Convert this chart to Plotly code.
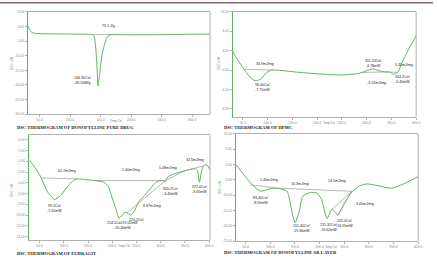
import plotly.graph_objects as go

# ---------------- data ----------------
# Panel 1: Donofylline pure drug
t1 = [30.6, 33, 37, 45, 60, 80, 100, 120, 134, 137, 139.5, 141.4, 144, 145.6, 147.5, 149.5, 152, 154.8, 157.5, 160, 163, 166.6, 180, 200, 250, 300, 329]
v1 = [0.3, -0.8, -2.0, -2.4, -2.5, -2.55, -2.6, -2.65, -2.7, -2.8, -3.6, -6.1, -13.9, -20.3, -17.5, -13.9, -10.0, -7.2, -5.3, -3.9, -3.1, -2.8, -2.8, -2.85, -2.8, -2.65, -2.6]
base1 = [([137, 166.6], [-2.8, -2.8])]
tx1 = [50, 100, 150, 200, 250, 300]
ty1 = [5, 0, -5, -10, -15, -20, -25, -30]

# Panel 2: HPMC
t2 = [29.3, 39.3, 52.7, 62.7, 74.7, 86, 96, 106, 116, 162.7, 196, 242.7, 282.7, 299.3, 312.7, 322.7, 336, 346, 354, 362.7, 372.7, 386, 396, 400]
v2 = [3.94, 2.19, 0.16, -1.2, -2.2, -1.87, -0.73, -0.04, 0.02, -0.45, -0.73, -1.0, -0.73, -0.18, 0.28, -0.04, -0.38, -0.38, -0.85, -0.45, 1.85, 4.55, 6.25, 7.1]
base2 = [([52.7, 110.7], [0.16, 0.02]), ([289, 336], [-0.5, -0.38]), ([336, 362.7], [-0.38, -0.45])]
tx2 = [50, 100, 150, 200, 250, 300, 350, 400]
ty2 = [12, 8, 4, 0, -4, -8]

# Panel 3: Eudragit
t3 = [29.5, 39.8, 53.5, 66.4, 80.8, 93, 105, 115.6, 126.5, 144, 162.8, 181, 191.5, 199.7, 208, 214, 220, 226.3, 230.4, 238, 244.8, 255, 269.4, 289, 302, 309.7, 314.5, 326.8, 350.7, 371, 376, 380, 384, 388, 395, 402]
v3 = [0.13, -1.1, -3.1, -5.7, -7.1, -6.4, -5.0, -3.9, -3.3, -3.4, -3.6, -3.85, -4.6, -6.8, -9.0, -10.6, -10.1, -9.5, -9.6, -10.0, -9.4, -7.5, -6.1, -4.0, -3.5, -3.8, -2.9, -2.4, -1.74, -1.4, -1.8, -3.9, -2.0, -0.9, -0.65, -1.6]
base3 = [([53.5, 126.5], [-3.1, -3.3]), ([162.8, 309.7], [-3.6, -3.6]), ([230.4, 309.7], [-9.6, -3.6]),
         ([309.7, 350.7], [-3.6, -1.74]), ([350.7, 388], [-1.74, -0.9])]
tx3 = [50, 100, 150, 200, 250, 300, 350, 400]
ty3 = [4, 2, 0, -2, -4, -6, -8, -10, -12, -14]

# Panel 4: Donofylline SR layer
t4 = [30, 46.5, 63.5, 80, 97, 107, 117, 134, 143, 150, 158, 166, 181, 195, 204, 215, 225, 232, 237, 249, 259, 267, 282, 296, 319, 346, 373, 400]
v4 = [0.1, -3.4, -6.6, -8.7, -8.0, -7.7, -7.8, -8.7, -14.6, -18.9, -15.7, -10.3, -9.1, -9.3, -11.4, -17.6, -14.6, -15.5, -16.5, -13.0, -10.3, -8.7, -6.9, -6.3, -6.9, -7.7, -6.1, -3.9]
base4 = [([60, 117], [-6.6, -7.7]), ([117, 265.5], [-7.7, -8.7]), ([225, 265.5], [-14.6, -8.7]), ([237, 265.5], [-16.5, -8.7])]
tx4 = [50, 100, 150, 200, 250, 300, 350, 400]
ty4 = [10, 5, 0, -5, -10, -15, -20, -25]

ann1 = [(163, 0.2, "79.1 J/g"), (120, -18.6, "146.30Cel<br>-36.56W/g")]
ann2 = [(94, 1.25, "33.9mJ/mg"), (90, -3.65, "96.40Cel<br>-7.75mW"),
        (312, 1.45, "311.20Cel<br>-4.78mW"), (375, 0.95, "5.35mJ/mg"),
        (373, -1.85, "344.2Cel<br>-0.40mW"), (320, -2.75, "-3.22mJ/mg")]
ann3 = [(107, -1.75, "61.7mJ/mg"), (238, -1.65, "1.00mJ/mg"), (282, -8.4, "8.87mJ/mg"),
        (316, -1.3, "5.08mJ/mg"), (371, 0.15, "32.5mJ/mg"),
        (81, -8.8, "99.2Cel<br>-7.05mW"),
        (222, -11.9, "214.5Cel/19.02mW<br>-10.30mW"), (250, -10.9, "224.2Cel"),
        (320, -5.6, "305.2Cel<br>-3.40mW"), (381, -5.3, "372.0Cel<br>-3.65mW")]
ann4 = [(97, -5.0, "1.40mJ/mg"), (161, -6.3, "16.3mJ/mg"), (235, -5.2, "14.5mJ/mg"), (292, -12.7, "3.05mJ/mg"),
        (80, -11.7, "83.40Cel<br>-8.90mW"), (164, -21.0, "151.40Cel<br>-19.30mW"),
        (218, -20.4, "215.32Cel<br>-16.62mW"), (251, -19.2, "225.4Cel<br>-16.95mW")]

titles = ["DSC THERMOGRAM OF DONOFYLLINE PURE DRUG", "DSC THERMOGRAM OF HPMC",
          "DSC THERMOGRAM OF EUDRAGIT", "DSC THERMOGRAM OF DONOFYLLINE SR LAYER"]

# ---------------- layout ----------------
W, H = 437, 259
GREEN = "#5fb35f"
GRAY = "#b0b0b0"
LINEGRAY = "#9a9a9a"

panels = [
    dict(t=t1, v=v1, base=base1, tx=tx1, ty=ty1, ann=ann1, px=(28, 212), py=(10, 114), xr=(30.6, 329), yr=(-30, 5), title_pos=(16, 127.5), ytitle=(12, 62), xtitle=(117, 120.5)),
    dict(t=t2, v=v2, base=base2, tx=tx2, ty=ty2, ann=ann2, px=(235, 420), py=(10, 117), xr=(30, 400), yr=(-9.7, 12), title_pos=(225, 127.5), ytitle=(221, 62), xtitle=(332.5, 122.5)),
    dict(t=t3, v=v3, base=base3, tx=tx3, ty=ty3, ann=ann3, px=(29, 212), py=(135, 242), xr=(27.5, 402), yr=(-14.7, 4.9), title_pos=(16, 255), ytitle=(12, 191), xtitle=(125.5, 248.3)),
    dict(t=t4, v=v4, base=base4, tx=tx4, ty=ty4, ann=ann4, px=(238, 422), py=(134, 243), xr=(30, 400), yr=(-25, 10), title_pos=(225, 254.8), ytitle=(222, 188), xtitle=(334.5, 248.8)),
]

fig = go.Figure()
layout = dict(width=W, height=H, margin=dict(l=0, r=0, t=0, b=0), paper_bgcolor="white",
              plot_bgcolor="white", showlegend=False)
annotations = []
shapes = []

for i, p in enumerate(panels):
    k = "" if i == 0 else str(i + 1)
    xa, ya = "x" + k, "y" + k
    fig.add_trace(go.Scatter(x=p["t"], y=p["v"], mode="lines", xaxis=xa, yaxis=ya,
                             line=dict(color=GREEN, width=1, shape="spline", smoothing=0.6),
                             hoverinfo="skip"))
    for bx, by in p["base"]:
        fig.add_trace(go.Scatter(x=bx, y=by, mode="lines", xaxis=xa, yaxis=ya,
                                 line=dict(color=LINEGRAY, width=0.7), hoverinfo="skip"))
    xd = [p["px"][0] / W, p["px"][1] / W]
    yd = [1 - p["py"][1] / H, 1 - p["py"][0] / H]
    tickfont = dict(family="Liberation Sans", size=3.4, color="#888")
    layout["xaxis" + k] = dict(domain=xd, range=list(p["xr"]), anchor=ya, showgrid=False, zeroline=False,
                               showline=True, mirror=True, linecolor=GRAY, linewidth=1,
                               tickmode="array", tickvals=p["tx"], ticktext=["{:.1f}".format(t) for t in p["tx"]],
                               ticks="outside", ticklen=2, tickcolor=GRAY, tickfont=tickfont)
    layout["yaxis" + k] = dict(domain=yd, range=list(p["yr"]), anchor=xa, showgrid=False, zeroline=False,
                               showline=True, mirror=False, linecolor=GREEN, linewidth=1,
                               tickmode="array", tickvals=p["ty"], ticktext=["{:.2f}".format(t) for t in p["ty"]],
                               ticks="outside", ticklen=2, tickcolor=GRAY, tickfont=tickfont)
    shapes.append(dict(type="line", xref=xa + " domain", yref=ya + " domain", x0=1, x1=1, y0=0, y1=1,
                       line=dict(color=GRAY, width=1)))
    for ax_, ay_, txt in p["ann"]:
        annotations.append(dict(x=ax_, y=ay_, xref=xa, yref=ya, text=txt, showarrow=False, borderpad=0,
                                xanchor="center", yanchor="middle",
                                font=dict(family="Liberation Sans", size=3.6, color="#222")))
    annotations.append(dict(x=p["title_pos"][0] / W, y=1 - p["title_pos"][1] / H, xref="paper", yref="paper",
                            text="<b>" + titles[i] + "</b>", showarrow=False, xanchor="left", yanchor="middle",
                            borderpad=0, font=dict(family="Liberation Serif", size=4.6, color="#1a1a1a")))
    annotations.append(dict(x=p["ytitle"][0] / W, y=1 - p["ytitle"][1] / H, xref="paper", yref="paper",
                            text="DSC mW", textangle=-90, showarrow=False, borderpad=0,
                            xanchor="center", yanchor="middle",
                            font=dict(family="Liberation Sans", size=3.2, color=GREEN)))
    annotations.append(dict(x=p["xtitle"][0] / W, y=1 - p["xtitle"][1] / H, xref="paper", yref="paper",
                            text="Temp Cel", showarrow=False, borderpad=0,
                            xanchor="center", yanchor="middle",
                            font=dict(family="Liberation Sans", size=2.8, color="#777")))

# top decorative band
shapes.append(dict(type="rect", xref="paper", yref="paper", x0=0, x1=1, y0=1 - 1.5 / H, y1=1,
                   line=dict(width=0), fillcolor="#8c5f6e"))

layout["annotations"] = annotations
layout["shapes"] = shapes
fig.update_layout(**layout)
fig.write_html("out.html")
